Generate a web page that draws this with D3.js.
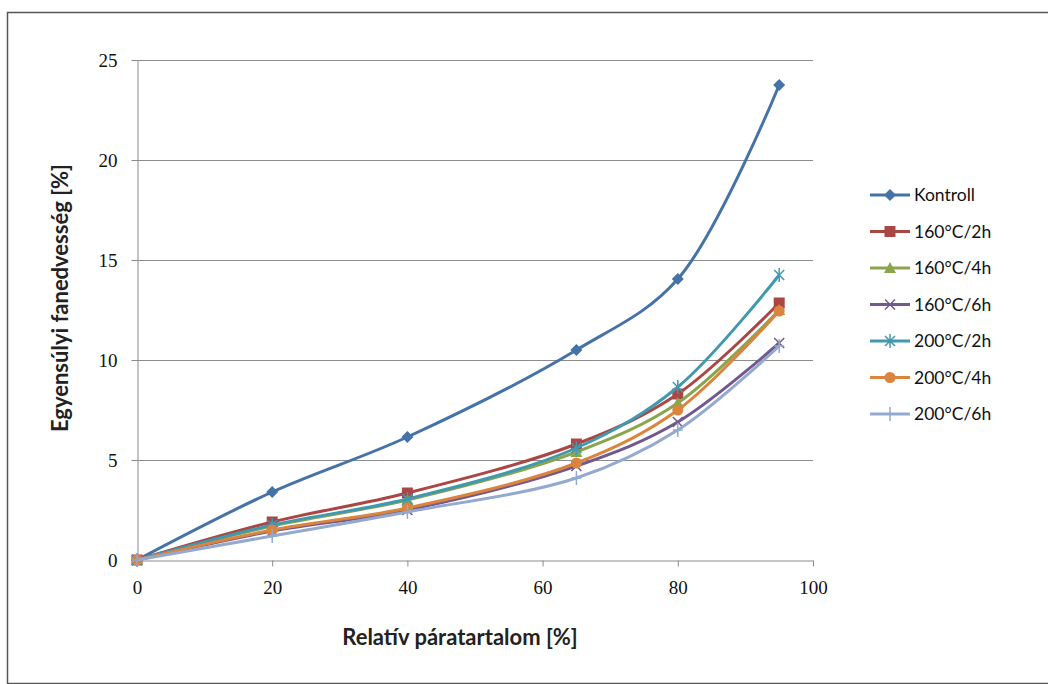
<!DOCTYPE html>
<html>
<head>
<meta charset="utf-8">
<script src="https://cdn.jsdelivr.net/npm/d3@7"></script>
<style>
  body { margin: 0; background: #fff; }
  svg { display: block; }
</style>
</head>
<body>
<div id="chart"></div>
<script>
// data
const xValues = [0, 20, 40, 65, 80, 95];
const seriesNames = ["Kontroll", "160°C/2h", "160°C/4h", "160°C/6h", "200°C/2h", "200°C/4h", "200°C/6h"];
const kontroll = [0, 3.4, 6.15, 10.5, 14.05, 23.75];
const t160_2h = [0, 1.9, 3.35, 5.8, 8.3, 12.85];
const t160_4h = [0, 1.7, 3.0, 5.4, 7.85, 12.5];
const t160_6h = [0, 1.45, 2.5, 4.7, 6.9, 10.85];
const t200_2h = [0, 1.75, 3.05, 5.6, 8.65, 14.25];
const t200_4h = [0, 1.5, 2.6, 4.85, 7.5, 12.45];
const t200_6h = [0, 1.2, 2.4, 4.1, 6.5, 10.7];
const xTicks = [0, 20, 40, 60, 80, 100];
const yTicks = [0, 5, 10, 15, 20, 25];

const seriesValues = [kontroll, t160_2h, t160_4h, t160_6h, t200_2h, t200_4h, t200_6h];
const colors = ["#4572A7", "#AA4643", "#89A54E", "#71588F", "#4198AF", "#DB843D", "#93A9CF"];
const markers = ["diamond", "square", "triangle", "x", "star", "circle", "plus"];

const W = 1048, H = 684;
const plot = {left: 137, right: 813, top: 60, bottom: 560};

const svg = d3.select("#chart").append("svg")
    .attr("width", W)
    .attr("height", H);

// chart frame
svg.append("rect")
    .attr("x", 7.5).attr("y", 12.5)
    .attr("width", 1100).attr("height", 671)
    .attr("fill", "#fff")
    .attr("stroke", "#555")
    .attr("stroke-width", 1.5);

const xScale = d3.scaleLinear().domain([0, 100]).range([plot.left, plot.right]);
const yScale = d3.scaleLinear().domain([0, 25]).range([plot.bottom, plot.top]);

// gridlines
svg.append("g")
    .selectAll("line")
    .data(yTicks.filter(d => d > 0))
    .join("line")
    .attr("x1", plot.left).attr("x2", plot.right)
    .attr("y1", d => Math.round(yScale(d)) + 0.5)
    .attr("y2", d => Math.round(yScale(d)) + 0.5)
    .attr("stroke", "#8c8c8c")
    .attr("stroke-width", 1);

// axes
const xAxis = d3.axisBottom(xScale).tickValues(xTicks).tickSize(6).tickSizeOuter(0).tickPadding(12);
const yAxis = d3.axisLeft(yScale).tickValues(yTicks).tickSize(6).tickSizeOuter(0).tickPadding(14);

const xg = svg.append("g")
    .attr("transform", "translate(0," + (plot.bottom + 0.5) + ")")
    .call(xAxis);
const yg = svg.append("g")
    .attr("transform", "translate(" + (plot.left + 0.5) + ",0)")
    .call(yAxis);

[xg, yg].forEach(g => {
    g.select(".domain").attr("stroke", "#8c8c8c");
    g.selectAll(".tick line").attr("stroke", "#8c8c8c");
    g.selectAll(".tick text")
        .attr("fill", "#111")
        .style("font-family", "'Liberation Serif', 'DejaVu Serif', serif")
        .style("font-size", "19px");
});
xg.selectAll(".tick text").attr("dy", "0.8em");

// axis titles
svg.append("text")
    .attr("x", 460).attr("y", 645)
    .attr("text-anchor", "middle")
    .style("font-family", "Lato, 'Open Sans', sans-serif")
    .style("font-weight", "bold")
    .style("font-size", "22px")
    .attr("fill", "#222")
    .text("Relatív páratartalom [%]");

svg.append("text")
    .attr("transform", "translate(68,298) rotate(-90)")
    .attr("text-anchor", "middle")
    .style("font-family", "Lato, 'Open Sans', sans-serif")
    .style("font-weight", "bold")
    .style("font-size", "22px")
    .attr("fill", "#222")
    .text("Egyensúlyi fanedvesség [%]");

// marker drawing
function drawMarker(g, type, color) {
    if (type === "diamond") {
        g.append("path").attr("d", "M0,-6L6,0L0,6L-6,0Z").attr("fill", color);
    } else if (type === "square") {
        g.append("rect").attr("x", -5.5).attr("y", -5.5).attr("width", 11).attr("height", 11).attr("fill", color);
    } else if (type === "triangle") {
        g.append("path").attr("d", "M0,-6L6,5L-6,5Z").attr("fill", color);
    } else if (type === "circle") {
        g.append("circle").attr("r", 5.5).attr("fill", color);
    } else {
        let d = "";
        if (type === "x" || type === "star") d += "M-5,-5L5,5M-5,5L5,-5";
        if (type === "star" || type === "plus") d += "M0,-7L0,7";
        if (type === "plus") d += "M-5,0L5,0";
        g.append("path").attr("d", d).attr("stroke", color).attr("stroke-width", 1.5).attr("fill", "none");
    }
}

const line = d3.line()
    .x(d => xScale(d[0]))
    .y(d => yScale(d[1]))
    .curve(d3.curveCatmullRom.alpha(0.5));

seriesValues.forEach((vals, i) => {
    const pts = xValues.map((x, j) => [x, vals[j]]);
    svg.append("path")
        .datum(pts)
        .attr("d", line)
        .attr("fill", "none")
        .attr("stroke", colors[i])
        .attr("stroke-width", 3)
        .attr("stroke-linejoin", "round");
    pts.forEach(p => {
        const g = svg.append("g").attr("transform", "translate(" + xScale(p[0]) + "," + yScale(p[1]) + ")");
        drawMarker(g, markers[i], colors[i]);
    });
});

// legend
const legend = svg.append("g").attr("transform", "translate(870,195)");
seriesNames.forEach((name, i) => {
    const row = legend.append("g").attr("transform", "translate(0," + (i * 36.5) + ")");
    row.append("line").attr("x1", 0).attr("x2", 40).attr("y1", 0).attr("y2", 0)
        .attr("stroke", colors[i]).attr("stroke-width", 3);
    const m = row.append("g").attr("transform", "translate(20,0)");
    drawMarker(m, markers[i], colors[i]);
    row.append("text")
        .attr("x", 44).attr("y", 0).attr("dy", "0.35em")
        .style("font-family", "Lato, 'Open Sans', sans-serif")
        .style("font-size", "17.5px")
        .attr("fill", "#111")
        .text(name);
});
</script>
</body>
</html>
